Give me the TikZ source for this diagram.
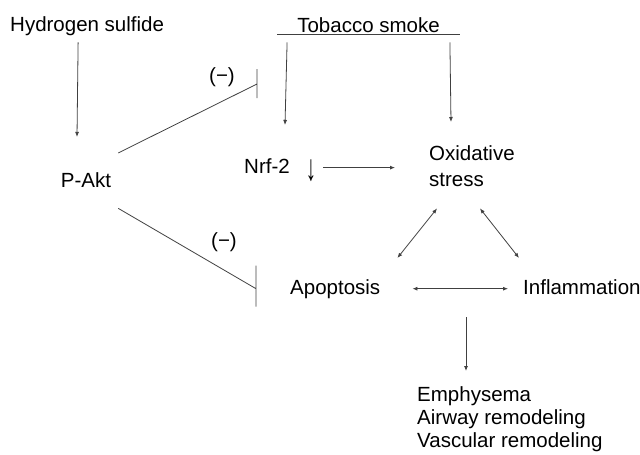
\documentclass[tikz,border=0pt]{standalone}
\usepackage{fontspec}
\usepackage{graphicx}
\setmainfont{Liberation Sans}
\usetikzlibrary{arrows.meta,calc}

\begin{document}
\begin{tikzpicture}[x=1pt,y=-1pt,>={Latex[length=5pt,width=4pt]},
  every node/.style={inner sep=0pt,font=\fontsize{20.5}{26}\selectfont},
  link/.style={draw=black!75,line width=0.8pt}]
  \useasboundingbox (0,0) rectangle (640,455);
  % nodes
  \node[anchor=base west] (h2s) at (10,31) {Hydrogen sulfide};
  \node[anchor=base,inner xsep=20pt,inner ysep=2pt] (tob) at (368.5,32) {Tobacco smoke};
  \node[anchor=base] (pakt) at (86,187) {P-Akt};
  \node[anchor=base west] (nrf) at (244,173)
    {Nrf-2\hspace{16pt}\raisebox{-7pt}{\scalebox{1}[1.8]{↓}}};
  \node[anchor=north west,align=left] (ox) at (429,145) {Oxidative\\stress};
  \node[anchor=base west] (apo) at (290,294) {Apoptosis};
  \node[anchor=base west] (inf) at (523,294) {Inflammation};
  \node[anchor=north west,align=left,font=\fontsize{20.5}{23}\selectfont] (out) at (417,386)
    {Emphysema\\Airway remodeling\\Vascular remodeling};
  \node (neg1) at (222,77) {(−)};
  \node (neg2) at (224,242) {(−)};
  \coordinate (blk1) at (257,84);
  \coordinate (fork) at (466,317);
  % underline of tobacco smoke
  \draw[link] (tob.south west) -- (tob.south east);
  % arrows
  \draw[link,->] ($(h2s.south)+(-9,7)$) -- ($(pakt.north)+(-9,-35)$);
  \draw[link,->] ($(tob.south west)+(10,8)$) -- ($(nrf.north west)+(41,-33)$);
  \draw[link,->] ($(tob.south east)+(-10,8)$) -- ($(ox.north west)+(22,-23)$);
  \draw[link,->] ($(nrf.east)+(7,-2)$) -- ($(nrf.east -| ox.west)+(-34,-2)$);
  % inhibition
  \draw[link] ($(pakt.north east)+(7,-19)$) -- (blk1) ++(0,-15) -- ++(0,29);
  \draw[link] ($(pakt.south east)+(7,21)$) -- ($(apo.west)+(-34,0)$) coordinate (blk2)
    ++(0,-23) -- ++(0,41);
  % loop
  \draw[link,<->] ($(ox.south west)+(8,22)$) -- ($(apo.north east)+(17,-21)$);
  \draw[link,<->] ($(ox.south west)+(51,22)$) -- ($(inf.north west)+(-4,-21)$);
  \draw[link,<->] ($(apo.east)+(32,0)$) -- ($(apo.east -| inf.west)+(-15,0)$);
  \draw[link,->] (fork) -- ($(out.north west)+(49,-15)$);
\end{tikzpicture}
\end{document}
